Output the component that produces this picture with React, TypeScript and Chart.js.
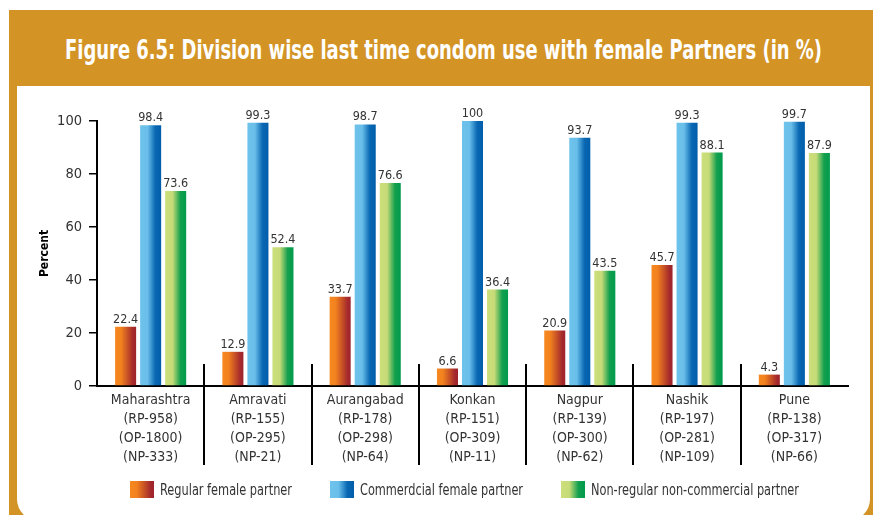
import React, { useEffect, useLayoutEffect, useRef } from 'react';
import { Chart, registerables } from 'chart.js';

Chart.register(...registerables);

const FONT = "'DejaVu Sans Condensed', 'DejaVu Sans', 'Liberation Sans', sans-serif";

const titleText = 'Figure 6.5: Division wise last time condom use with female Partners (in %)';
const yAxisTitle = 'Percent';

const categories: string[][] = [
  ['Maharashtra', '(RP-958)', '(OP-1800)', '(NP-333)'],
  ['Amravati', '(RP-155)', '(OP-295)', '(NP-21)'],
  ['Aurangabad', '(RP-178)', '(OP-298)', '(NP-64)'],
  ['Konkan', '(RP-151)', '(OP-309)', '(NP-11)'],
  ['Nagpur', '(RP-139)', '(OP-300)', '(NP-62)'],
  ['Nashik', '(RP-197)', '(OP-281)', '(NP-109)'],
  ['Pune', '(RP-138)', '(OP-317)', '(NP-66)'],
];

const regularFemale = [22.4, 12.9, 33.7, 6.6, 20.9, 45.7, 4.3];
const commercialFemale = [98.4, 99.3, 98.7, 100, 93.7, 99.3, 99.7];
const nonRegular = [73.6, 52.4, 76.6, 36.4, 43.5, 88.1, 87.9];

const seriesNames = [
  'Regular female partner',
  'Commerdcial female partner',
  'Non-regular non-commercial partner',
];

const yTicks = [0, 20, 40, 60, 80, 100];

const gradientStops: [number, string][][] = [
  [[0, '#F7871E'], [0.28, '#F2821E'], [0.85, '#A52A2C'], [1, '#9E222B']],
  [[0, '#6EC3EC'], [0.35, '#6ABFEA'], [0.72, '#0A68B3'], [1, '#005DAA']],
  [[0, '#CBDF7B'], [0.35, '#C6DB77'], [0.72, '#14A04E'], [1, '#009B4C']],
];

const CAT_PCT = 0.7;
const BAR_PCT = 0.84;

function cssGradient(stops: [number, string][]) {
  return `linear-gradient(to right, ${stops.map(([o, c]) => `${c} ${o * 100}%`).join(', ')})`;
}

function barGradient(stops: [number, string][]) {
  return (ctx: any) => {
    const chart = ctx.chart;
    const xs = chart.scales && chart.scales.x;
    if (!xs || ctx.dataIndex === undefined || !chart.chartArea) return stops[1][1];
    const n = chart.data.labels.length;
    const catW = (xs.right - xs.left) / n;
    const center = xs.getPixelForValue(ctx.dataIndex);
    const nDs = chart.data.datasets.length;
    const slot = (catW * CAT_PCT) / nDs;
    const barW = slot * BAR_PCT;
    const left = center - (catW * CAT_PCT) / 2 + slot * ctx.datasetIndex + (slot - barW) / 2;
    const g = chart.ctx.createLinearGradient(left, 0, left + barW, 0);
    stops.forEach(([o, c]) => g.addColorStop(o, c));
    return g;
  };
}

const valueLabels = {
  id: 'valueLabels',
  afterDatasetsDraw(chart: any) {
    const ctx = chart.ctx;
    ctx.save();
    ctx.font = `12.5px ${FONT}`;
    ctx.fillStyle = '#333333';
    ctx.textAlign = 'center';
    ctx.textBaseline = 'alphabetic';
    chart.data.datasets.forEach((ds: any, di: number) => {
      const meta = chart.getDatasetMeta(di);
      meta.data.forEach((el: any, i: number) => {
        ctx.fillText(String(ds.data[i]), el.x, el.y - 4);
      });
    });
    ctx.restore();
  },
};

const separators = {
  id: 'separators',
  afterDraw(chart: any) {
    const xs = chart.scales.x;
    const n = chart.data.labels.length;
    const catW = (xs.right - xs.left) / n;
    const bottom = chart.chartArea.bottom;
    const ctx = chart.ctx;
    ctx.save();
    ctx.strokeStyle = '#000';
    ctx.lineWidth = 2;
    for (let i = 1; i < n; i++) {
      const x = Math.round(xs.left + catW * i);
      ctx.beginPath();
      ctx.moveTo(x, bottom - 22);
      ctx.lineTo(x, bottom + 79);
      ctx.stroke();
    }
    ctx.restore();
  },
};

function FitText({
  text,
  width,
  style,
}: {
  text: string;
  width: number;
  style?: React.CSSProperties;
}) {
  const ref = useRef<HTMLSpanElement | null>(null);
  useLayoutEffect(() => {
    const el = ref.current;
    if (!el) return;
    el.style.transform = 'none';
    const w = el.getBoundingClientRect().width;
    if (w > 0) el.style.transform = `scaleX(${width / w})`;
  }, [text, width]);
  return (
    <span
      ref={ref}
      style={{
        display: 'inline-block',
        whiteSpace: 'nowrap',
        transformOrigin: 'left center',
        ...style,
      }}
    >
      {text}
    </span>
  );
}

export default function App() {
  const canvasRef = useRef<HTMLCanvasElement | null>(null);

  useEffect(() => {
    if (!canvasRef.current) return;
    const seriesData = [regularFemale, commercialFemale, nonRegular];
    const chart = new Chart(canvasRef.current, {
      type: 'bar',
      data: {
        labels: categories,
        datasets: seriesData.map((d, i) => ({
          label: seriesNames[i],
          data: d,
          backgroundColor: barGradient(gradientStops[i]),
          borderWidth: 0,
          categoryPercentage: CAT_PCT,
          barPercentage: BAR_PCT,
        })),
      },
      options: {
        animation: false,
        responsive: true,
        maintainAspectRatio: false,
        layout: { padding: { left: 0, top: 35, right: 22, bottom: 29 } },
        plugins: {
          legend: { display: false },
          tooltip: { enabled: false },
        },
        scales: {
          x: {
            ticks: {
              color: '#333333',
              font: { family: FONT, size: 14, lineHeight: 1.36 },
              padding: 5,
              maxRotation: 0,
              autoSkip: false,
            },
            grid: { display: false, drawTicks: false },
            border: { display: true, color: '#000', width: 2 },
            afterFit: (s: any) => {
              s.height = 100;
            },
          },
          y: {
            min: 0,
            max: 100,
            afterBuildTicks: (s: any) => {
              s.ticks = yTicks.map((v) => ({ value: v }));
            },
            ticks: {
              color: '#333333',
              font: { family: FONT, size: 14.5 },
              padding: 7,
            },
            grid: {
              drawOnChartArea: false,
              drawTicks: true,
              tickLength: 8,
              color: '#000',
              lineWidth: 1.5,
            },
            border: { display: true, color: '#000', width: 2 },
            title: {
              display: true,
              text: yAxisTitle,
              color: '#000',
              font: { family: FONT, size: 12, weight: 'bold' },
              padding: { top: 21, bottom: 0 },
            },
            afterFit: (s: any) => {
              s.width = 80;
            },
          },
        },
      },
      plugins: [valueLabels, separators],
    });
    return () => chart.destroy();
  }, []);

  const legendBoxLeft = [130, 330, 561];
  const legendTextWidth = [132, 163, 208];

  return (
    <div
      style={{
        position: 'fixed',
        left: 0,
        top: 0,
        width: 873,
        height: 515,
        overflow: 'hidden',
        background: '#fff',
        fontFamily: FONT,
      }}
    >
      <div
        style={{
          position: 'absolute',
          left: 9,
          top: 10,
          width: 864,
          height: 520,
          background: '#D39425',
        }}
      />
      <div
        style={{
          position: 'absolute',
          left: 65,
          top: 10,
          width: 760,
          height: 79,
          display: 'flex',
          alignItems: 'center',
          color: '#fff',
          fontWeight: 'bold',
          fontSize: 26,
        }}
      >
        <FitText text={titleText} width={757} />
      </div>
      <div
        style={{
          position: 'absolute',
          left: 17,
          top: 86,
          width: 853,
          height: 435,
          background: '#fff',
          borderRadius: '0 0 22px 22px',
        }}
      />
      <div style={{ position: 'absolute', left: 17, top: 86, width: 853, height: 429 }}>
        <canvas ref={canvasRef} />
      </div>
      {seriesNames.map((name, i) => (
        <div
          key={name}
          style={{
            position: 'absolute',
            left: legendBoxLeft[i],
            top: 479,
            height: 21,
            display: 'flex',
            alignItems: 'center',
            whiteSpace: 'nowrap',
          }}
        >
          <div
            style={{
              width: 24,
              height: 17,
              flex: '0 0 auto',
              background: cssGradient(gradientStops[i]),
            }}
          />
          <div style={{ marginLeft: 6, fontSize: 16, color: '#333333', lineHeight: '21px' }}>
            <FitText text={name} width={legendTextWidth[i]} />
          </div>
        </div>
      ))}
    </div>
  );
}
